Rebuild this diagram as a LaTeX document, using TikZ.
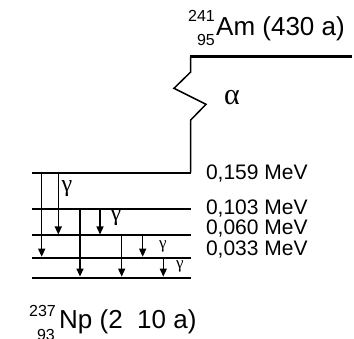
\documentclass[tikz,border=0pt]{standalone}
\usepackage{fontspec}
\setmainfont{Liberation Sans}
\newfontfamily\greekfont{Liberation Serif}
\usetikzlibrary{arrows.meta}
\begin{document}
\begin{tikzpicture}[x=1pt,y=-1pt,
  lvl/.style={line width=2pt},
  gnd/.style={line width=2.8pt},
  gam/.style={line width=1.3pt,-{Triangle[width=7pt,length=8pt]}},
  mev/.style={anchor=base west,inner sep=0pt,font=\fontsize{21}{21}\selectfont},
  iso/.style={anchor=base west,inner sep=0pt,font=\fontsize{26}{26}\selectfont},
  scr/.style={anchor=base east,inner sep=0pt,font=\fontsize{16}{16}\selectfont},
  glab/.style={inner sep=0pt,font=\greekfont\fontsize{24}{24}\selectfont},
  glabs/.style={inner sep=0pt,font=\greekfont\fontsize{17}{17}\selectfont}]
\useasboundingbox (0,0) rectangle (354,339);
% coordinates
\coordinate (amL) at (190.7,56.7);
\coordinate (amR) at (352,56.7);
\coordinate (z1) at (190.7,72);
\coordinate (z2) at (174,88.3);
\coordinate (z3) at (206,104.3);
\coordinate (z4) at (190.7,120);
\coordinate (aL) at (32,172.7);  \coordinate (aR) at (190.7,172.7);
\coordinate (bL) at (32,209.5);  \coordinate (bR) at (190.7,209.5);
\coordinate (cL) at (32,235.5);  \coordinate (cR) at (190.7,235.5);
\coordinate (dL) at (32,257.7);  \coordinate (dR) at (190.7,257.7);
\coordinate (gL) at (32,278);    \coordinate (gR) at (190.7,278);
% levels
\draw[line width=2.5pt] (amR) -- ([xshift=-0.7pt]amL);
\draw[line width=1.5pt,line join=miter] (amL) -- (z1) -- (z2) -- (z3) -- (z4) -- (aR);
\draw[lvl] (aL) -- ([xshift=0.7pt]aR);
\draw[lvl] (bL) -- (bR);
\draw[lvl] (cL) -- (cR);
\draw[lvl] (dL) -- (dR);
\draw[gnd] (gL) -- (gR);
% gamma transitions
\coordinate (t1s) at (41.7,172.7);  \coordinate (t1e) at (41.7,256.7);
\coordinate (t2s) at (58.3,172.7);  \coordinate (t2e) at (58.3,234.5);
\coordinate (t3s) at (80,209.5);    \coordinate (t3e) at (80,276.6);
\coordinate (t4s) at (100,209.5);   \coordinate (t4e) at (100,234.5);
\coordinate (t5s) at (121.7,235.5); \coordinate (t5e) at (121.7,276.6);
\coordinate (t6s) at (142.7,235.5); \coordinate (t6e) at (142.7,256.7);
\coordinate (t7s) at (163.3,257.7); \coordinate (t7e) at (163.3,276.6);
\draw[gam] (t1s) -- (t1e);
\draw[gam] (t2s) -- (t2e);
\draw[gam] (t3s) -- (t3e);
\draw[gam] (t4s) -- (t4e);
\draw[gam] (t5s) -- (t5e);
\draw[gam] (t6s) -- (t6e);
\draw[gam] (t7s) -- (t7e);
% labels
\node[glab] (g1) at (67,189) {γ};
\node[glab] (g2) at (116,218) {γ};
\node[glabs] (g3) at (163,246) {γ};
\node[glabs] (g4) at (180,266) {γ};
\node[inner sep=0pt,font=\greekfont\fontsize{30}{30}\selectfont] (alpha) at (232,98) {α};
\node[mev] (m1) at (205.8,180) {0,159 MeV};
\node[mev] (m2) at (205.8,215) {0,103 MeV};
\node[mev] (m3) at (205.8,235) {0,060 MeV};
\node[mev] (m4) at (205.8,255.5) {0,033 MeV};
\node[iso] (am) at (216,36) {Am (430 a)};
\node[scr] (amA) at (215,21.5) {241};
\node[scr] (amZ) at (215,45.5) {95};
\node[iso] (np) at (59,328.5) {Np (2\ \ 10 a)};
\node[scr] (npA) at (56,317) {237};
\node[scr] (npZ) at (55,340.5) {93};
\end{tikzpicture}
\end{document}
